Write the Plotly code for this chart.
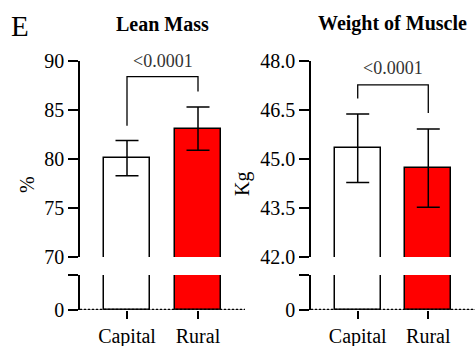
import plotly.graph_objects as go

# ---- data ----
categories = ["Capital", "Rural"]
lean_mean = [80.1, 83.1]
lean_err = [1.8, 2.2]
muscle_mean = [45.33, 44.72]
muscle_err = [1.05, 1.2]
bar_colors = ["#ffffff", "#ff0000"]

lean_ticks = [70, 75, 80, 85, 90]
lean_ticktext = ["70", "75", "80", "85", "90"]
muscle_ticks = [42.0, 43.5, 45.0, 46.5, 48.0]
muscle_ticktext = ["42.0", "43.5", "45.0", "46.5", "48.0"]
low_ticks = [0, 10]
low_ticktext = ["0", ""]

p_label = "<0.0001"
lean_bracket_y = [83.4, 88.4, 88.4, 86.9]
muscle_bracket_y = [46.85, 47.27, 47.27, 46.41]
bracket_x = [0, 0, 1, 1]
lean_p_y = 89.99
muscle_p_y = 47.8

FONT = "Liberation Serif"
W, H = 475, 346


def px_x(p):
    return p / W


def px_y(p):
    return 1 - p / H


fig = go.Figure()

panels = [
    (lean_mean, lean_err, ("x", "y"), ("x2", "y2"), lean_bracket_y, lean_p_y),
    (muscle_mean, muscle_err, ("x3", "y3"), ("x4", "y4"), muscle_bracket_y, muscle_p_y),
]

for mean, err, up, low, br_y, p_y in panels:
    for axes in (up, low):
        fig.add_trace(go.Bar(
            x=categories, y=mean,
            xaxis=axes[0], yaxis=axes[1],
            width=0.648,
            marker=dict(color=bar_colors, line=dict(color="black", width=1.5)),
            error_y=dict(type="data", array=err, visible=True,
                         color="black", thickness=1.5, width=11.5),
            showlegend=False, hoverinfo="skip",
        ))
    fig.add_trace(go.Scatter(
        x=[categories[i] for i in bracket_x], y=br_y,
        xaxis=up[0], yaxis=up[1], mode="lines",
        line=dict(color="black", width=1.3), showlegend=False,
        cliponaxis=False, hoverinfo="skip",
    ))
    fig.add_annotation(x=0.5, y=p_y, xref=up[0], yref=up[1], text=p_label,
                       showarrow=False, font=dict(family=FONT, size=18, color="#333"),
                       xanchor="center", yanchor="middle")
    # dotted baseline at zero
    fig.add_shape(type="line", xref=f"{low[0]} domain", yref=low[1],
                  x0=0, x1=1, y0=0, y1=0,
                  line=dict(color="#333", width=1))
    fig.add_shape(type="line", xref=f"{low[0]} domain", yref=low[1],
                  x0=0, x1=1, y0=0, y1=0,
                  line=dict(color="black", width=2.5, dash="2px,2px"))

xr = [-0.662, 1.662]
left_dom = [px_x(80), px_x(245)]
right_dom = [px_x(311), px_x(475)]
up_dom = [px_y(257), px_y(61)]
low_dom = [px_y(310), px_y(275)]

tickfont = dict(family=FONT, size=20, color="black")

common_y = dict(showline=True, linecolor="black", linewidth=1.5, ticks="outside",
                ticklen=10, tickwidth=1.5, tickcolor="black", showgrid=False,
                zeroline=False, tickfont=tickfont, automargin=False)
common_xlow = dict(type="category", showline=False, ticks="outside", ticklen=8,
                   tickwidth=1.5, tickcolor="black", showgrid=False, zeroline=False,
                   tickfont=tickfont, automargin=False)

fig.update_layout(
    template="none",
    width=W, height=H, autosize=False,
    margin=dict(l=0, r=0, t=0, b=0, pad=0),
    paper_bgcolor="white", plot_bgcolor="white",
    font=dict(family=FONT, color="black"),
    bargap=0,
    xaxis=dict(domain=left_dom, anchor="y", range=xr, visible=False, type="category"),
    yaxis=dict(domain=up_dom, anchor="x", range=[70, 90], tickvals=lean_ticks,
               ticktext=lean_ticktext, **common_y),
    xaxis2=dict(domain=left_dom, anchor="y2", range=xr, **common_xlow),
    yaxis2=dict(domain=low_dom, anchor="x2", range=[0, 10], tickvals=low_ticks,
                ticktext=low_ticktext, **common_y),
    xaxis3=dict(domain=right_dom, anchor="y3", range=xr, visible=False, type="category"),
    yaxis3=dict(domain=up_dom, anchor="x3", range=[42, 48], tickvals=muscle_ticks,
                ticktext=muscle_ticktext, **common_y),
    xaxis4=dict(domain=right_dom, anchor="y4", range=xr, **common_xlow),
    yaxis4=dict(domain=low_dom, anchor="x4", range=[0, 10], tickvals=low_ticks,
                ticktext=low_ticktext, **common_y),
)


def label(x, y, text, size, angle=0):
    fig.add_annotation(x=px_x(x), y=px_y(y), xref="paper", yref="paper",
                       text=text, showarrow=False, textangle=angle,
                       xanchor="center", yanchor="middle",
                       font=dict(family=FONT, size=size, color="black"))


label(162, 24, "<b>Lean Mass</b>", 20)
label(392, 23, "<b>Weight of Muscle</b>", 20)
label(20, 26, "E", 29)
label(27, 185, "%", 20, -90)
label(243, 184, "Kg", 20, -90)

fig.write_html("out.html", config={"displayModeBar": False},
               post_script="document.body.style.margin='0';")
